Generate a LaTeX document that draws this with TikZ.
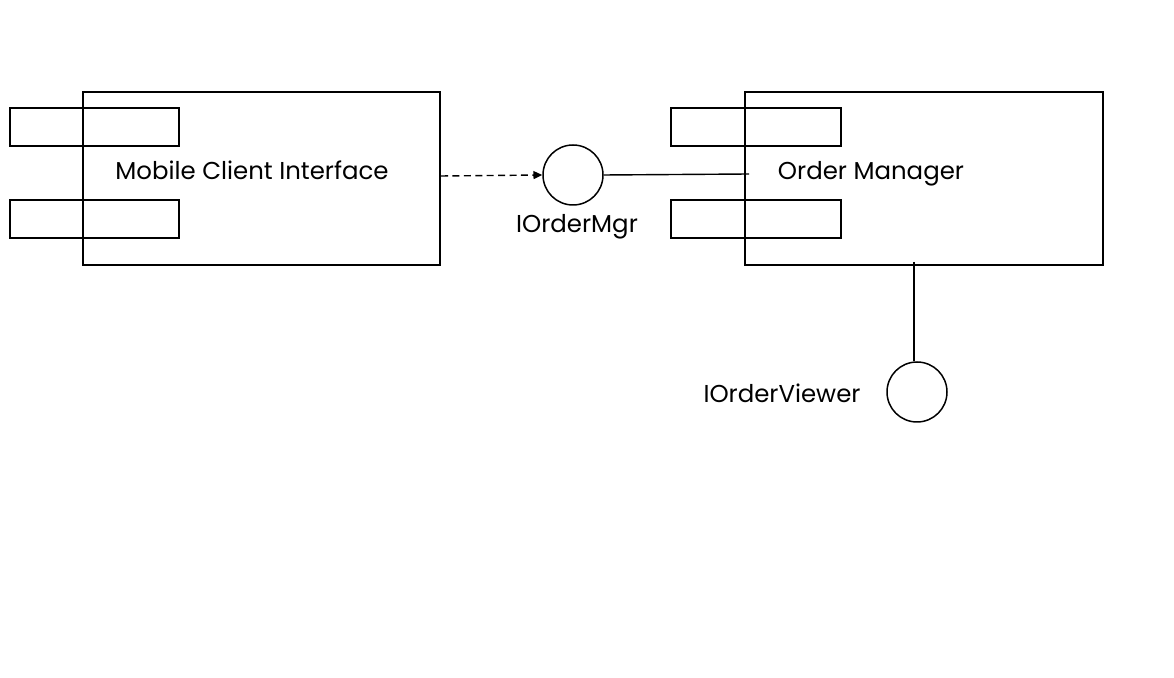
\documentclass[tikz,border=0pt]{standalone}
\usepackage{fontspec}
\setmainfont{Poppins}
\usetikzlibrary{arrows.meta}
\begin{document}
\begin{tikzpicture}[x=0.02cm,y=-0.02cm,
  comp/.style={draw,line width=0.85pt},
  iface/.style={draw,line width=0.85pt,circle,minimum size=60*0.02cm,inner sep=0pt},
  lbl/.style={font=\fontsize{13.9}{16}\selectfont,anchor=base,inner sep=0pt},
  conn/.style={line width=0.8pt}]
\useasboundingbox (0,0) rectangle (1174,678);
% Mobile Client Interface
\draw[comp] (83,92) rectangle (440,265);
\draw[comp] (10,108) rectangle (179,146);
\draw[comp] (10,200) rectangle (179,238);
\coordinate (mciR) at (441,176);
\node[lbl] (mci) at (252,180) {Mobile Client Interface};
% Order Manager
\draw[comp] (745,92) rectangle (1103,265);
\draw[comp] (671,108) rectangle (841,146);
\draw[comp] (671,200) rectangle (841,238);
\coordinate (omL) at (749,174);
\coordinate (omB) at (914,262);
\node[lbl] (om) at (871,180) {Order Manager};
% interfaces
\node[iface] (imgr) at (573,175) {};
\node[lbl] (imgrl) at (577,233) {IOrderMgr};
\node[iface] (iview) at (917,392) {};
\node[lbl] (iviewl) at (782,403) {IOrderViewer};
% connectors
\draw[conn,dashed,dash pattern=on 4pt off 2.5pt,-{Triangle[length=5pt,width=4.5pt]}] (mciR) -- (imgr.west);
\draw[conn] (imgr.east) -- (omL);
\draw[conn] (omB) -- (omB |- iview.north);
\end{tikzpicture}
\end{document}
